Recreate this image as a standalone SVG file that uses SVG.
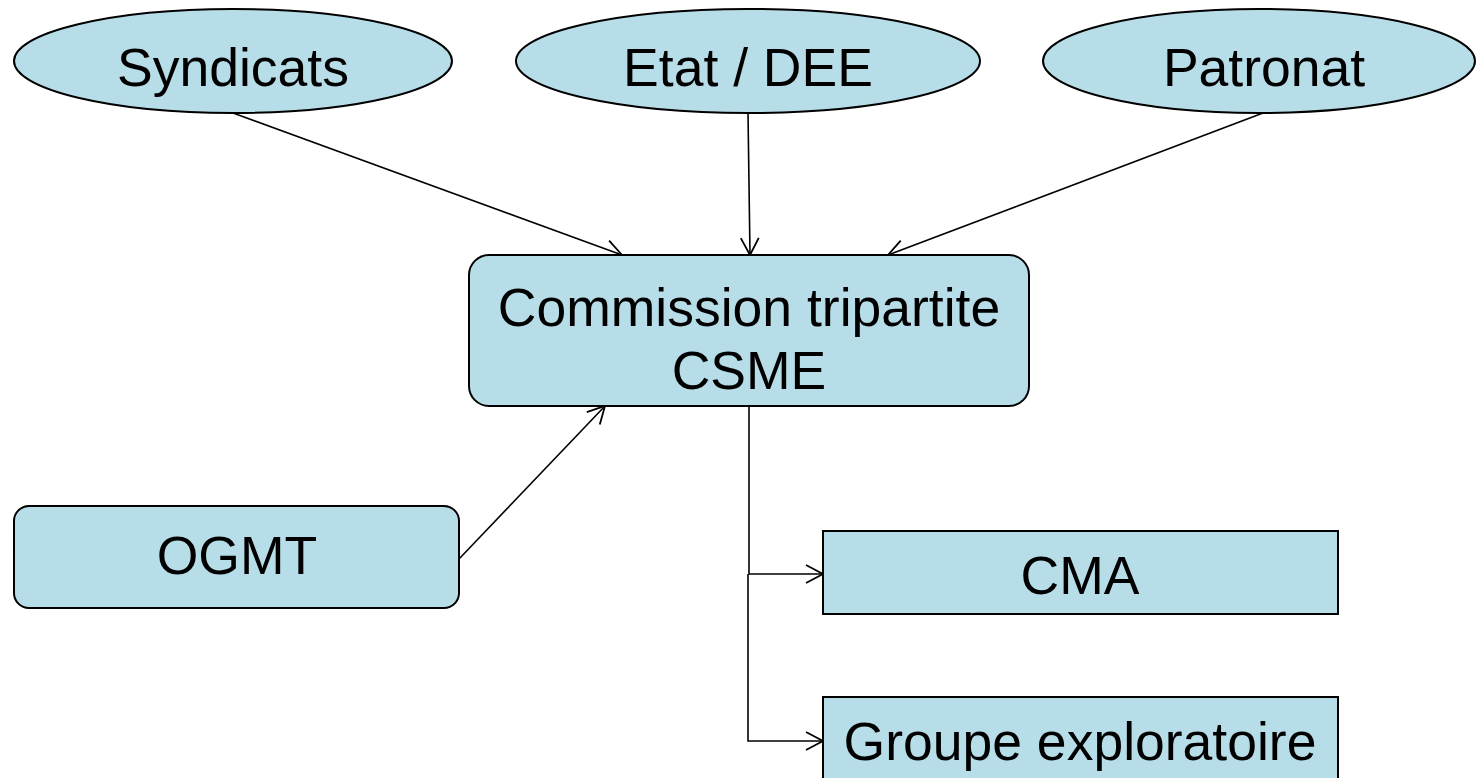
<svg xmlns="http://www.w3.org/2000/svg" width="1476" height="778" viewBox="0 0 1476 778">
<defs>
<style>
.n{fill:#b7dde8;stroke:#000;stroke-width:2}
.t{font-family:"Liberation Sans",Arial,sans-serif;font-size:53.5px;fill:#000;text-anchor:middle}
.c{fill:none;stroke:#000;stroke-width:1.6}
</style>
<marker id="a" viewBox="0 0 20 20" refX="18" refY="10" markerWidth="20" markerHeight="20" markerUnits="userSpaceOnUse" orient="auto">
<path d="M1,1 L18,10 L1,19" fill="none" stroke="#000" stroke-width="1.8"/>
</marker>
</defs>
<rect width="1476" height="778" fill="#fff"/>
<g id="connectors">
<line class="c" x1="233" y1="113" x2="622" y2="255" marker-end="url(#a)"/>
<line class="c" x1="748" y1="113" x2="750" y2="255" marker-end="url(#a)"/>
<line class="c" x1="1263" y1="113" x2="888" y2="255" marker-end="url(#a)"/>
<line class="c" x1="459" y1="559" x2="605" y2="406" marker-end="url(#a)"/>
<polyline class="c" points="749,406 749,574 823,574" marker-end="url(#a)"/>
<polyline class="c" points="748,574 748,741 823,741" marker-end="url(#a)"/>
</g>
<g id="syndicats">
<ellipse class="n" cx="233" cy="61" rx="219" ry="52"/>
<text class="t" x="233" y="86">Syndicats</text>
</g>
<g id="etat">
<ellipse class="n" cx="748" cy="61" rx="232" ry="52"/>
<text class="t" x="748" y="86">Etat / DEE</text>
</g>
<g id="patronat">
<ellipse class="n" cx="1259" cy="61" rx="216" ry="52"/>
<text class="t" x="1264" y="86">Patronat</text>
</g>
<g id="commission">
<rect class="n" x="469" y="255" width="560" height="151" rx="20"/>
<text class="t" x="749" y="326">Commission tripartite</text>
<text class="t" x="749" y="389">CSME</text>
</g>
<g id="ogmt">
<rect class="n" x="14" y="506" width="445" height="102" rx="15"/>
<text class="t" x="237" y="574">OGMT</text>
</g>
<g id="cma">
<rect class="n" x="823" y="531" width="515" height="83"/>
<text class="t" x="1080" y="594">CMA</text>
</g>
<g id="groupe">
<rect class="n" x="823" y="697" width="515" height="100"/>
<text class="t" x="1080" y="760">Groupe exploratoire</text>
</g>
</svg>
